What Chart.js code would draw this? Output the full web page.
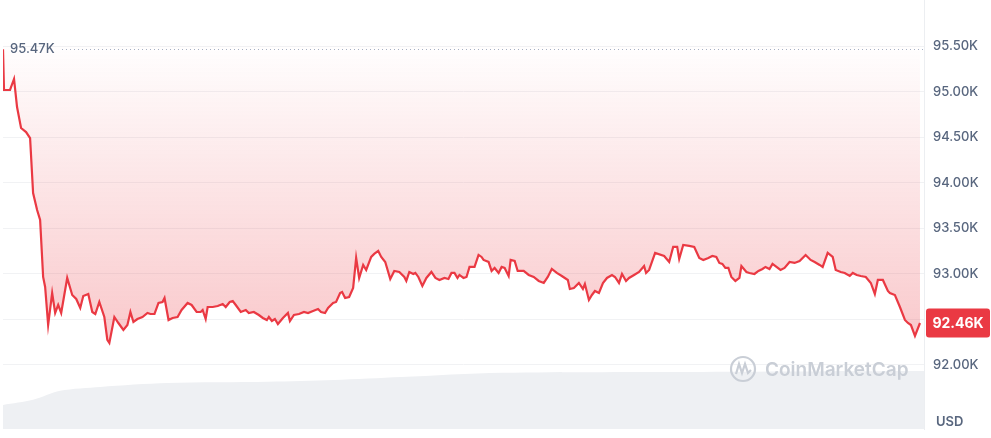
<!DOCTYPE html>
<html>
<head>
<meta charset="utf-8">
<script src="https://cdn.jsdelivr.net/npm/chart.js@4"></script>
<style>
  html, body { margin: 0; padding: 0; background: #fff; }
  #wrap { width: 991px; height: 438px; position: relative; }
</style>
</head>
<body>
<div id="wrap"><canvas id="priceChart"></canvas></div>
<script>
// time index (24h session sampled along the chart width) and BTC price in USD
var times = [0,1,7,11,14,18,23,27,30,34,37,40,42,45,49,52,55,58,64,69,73,77,80,85,89,92,96,101,104,106,111,115,120,124,127,130,134,139,144,147,151,155,159,161,165,169,174,178,184,188,193,197,199,202,204,209,214,219,222,226,229,232,237,242,245,250,255,259,263,265,268,271,274,279,284,286,290,295,300,304,309,314,317,321,324,329,332,336,338,341,345,349,352,355,359,362,367,370,374,377,381,386,390,395,400,402,405,409,411,414,418,422,427,431,435,440,444,447,450,453,455,459,462,465,470,474,477,479,484,487,490,494,497,500,504,506,510,513,519,524,529,534,539,543,547,552,557,563,565,569,574,578,580,584,587,590,594,598,602,607,610,614,617,621,624,629,634,639,641,644,650,659,664,668,672,674,678,684,689,694,698,703,707,711,714,717,720,723,726,730,734,736,741,744,749,753,757,760,764,767,775,779,784,789,794,800,805,809,814,817,822,827,830,835,839,844,847,851,855,860,865,869,872,877,882,884,889,894,899,902,905,909,914,918];
var prices = [95470,95022,95022,95143,94835,94604,94560,94494,93890,93703,93593,92967,92857,92439,92791,92571,92659,92571,92956,92769,92725,92626,92758,92780,92582,92560,92692,92527,92275,92242,92527,92461,92385,92439,92582,92472,92505,92527,92571,92560,92560,92681,92692,92736,92494,92516,92527,92604,92681,92659,92582,92582,92604,92505,92637,92637,92648,92670,92637,92692,92703,92659,92582,92604,92571,92582,92549,92516,92494,92527,92483,92505,92450,92516,92571,92483,92549,92560,92582,92571,92593,92615,92582,92571,92626,92681,92692,92791,92802,92736,92747,92846,93176,92956,93099,93044,93187,93220,93253,93187,93132,92945,93033,93022,92967,92923,93022,93000,93011,92967,92868,92956,93022,92956,92934,92956,92945,93011,93011,92956,92989,92956,92967,93077,93077,93209,93187,93154,93132,93033,93066,93011,93077,93066,92978,93154,93143,93033,93033,92989,92967,92923,92901,92967,93055,93011,92978,92934,92835,92846,92901,92835,92890,92714,92769,92813,92791,92901,92956,92989,92967,92901,93000,92923,92956,92989,93022,93088,93011,93044,93231,93198,93132,93297,93297,93165,93319,93308,93297,93176,93154,93176,93198,93187,93121,93110,93066,93066,92967,92923,92956,93088,93022,93011,93000,93033,93055,93077,93055,93110,93044,93066,93132,93121,93143,93209,93154,93132,93099,93077,93231,93187,93044,93022,93011,92978,93011,92989,92978,92967,92901,92780,92934,92934,92813,92791,92769,92637,92494,92461,92439,92319,92461];

// traded volume profile (relative units) shown as the grey band at the bottom
var volTimes = [0,30,57,97,164,264,330,397,497,697,918];
var volumes = [5.6,6.8,8.9,9.8,10.7,11.0,11.4,12.1,13.1,13.3,13.5];

var tickValues = [92000,92500,93000,93500,94000,94500,95000,95500];
var maxPrice = 95470;
var lastPrice = 92461;

var red = '#ea3943';
var gray = '#58667e';

var pricePoints = times.map(function(t, i){ return {x: t, y: prices[i]}; });
var volPoints = volTimes.map(function(t, i){ return {x: t, y: volumes[i]}; });

function fmtK(v){ return (v / 1000).toFixed(2) + 'K'; }

// extra drawing: max marker, last price tag, watermark, currency
var overlay = {
  id: 'overlay',
  afterDatasetsDraw: function(chart){
    var ctx = chart.ctx, area = chart.chartArea, ys = chart.scales.y;
    ctx.save();
    // dotted max line + label
    var yMax = Math.round(ys.getPixelForValue(maxPrice)) + 0.5;
    ctx.strokeStyle = '#a6b0c3';
    ctx.lineWidth = 1;
    ctx.setLineDash([1, 3]);
    ctx.beginPath();
    ctx.moveTo(62, yMax);
    ctx.lineTo(area.right, yMax);
    ctx.stroke();
    ctx.setLineDash([]);
    ctx.fillStyle = gray;
    ctx.font = '500 13px Inter';
    ctx.textBaseline = 'middle';
    ctx.textAlign = 'left';
    ctx.fillText(fmtK(maxPrice), 10, yMax);

    // watermark
    var cx = 743, cy = 369;
    ctx.strokeStyle = '#c9ced6';
    ctx.lineWidth = 2.2;
    ctx.beginPath();
    ctx.arc(cx, cy, 12, 0, Math.PI * 2);
    ctx.stroke();
    ctx.beginPath();
    ctx.moveTo(cx - 7, cy + 5);
    ctx.lineTo(cx - 4, cy - 5);
    ctx.lineTo(cx - 1, cy + 4);
    ctx.lineTo(cx + 2, cy - 5);
    ctx.lineTo(cx + 5, cy + 4);
    ctx.lineTo(cx + 8, cy + 1);
    ctx.stroke();
    ctx.fillStyle = '#c9ced6';
    ctx.font = '600 19px Inter';
    ctx.fillText('CoinMarketCap', 765, cy + 1);

    // last price tag
    var yL = ys.getPixelForValue(lastPrice);
    var bx = area.right + 2, bw = 64, bh = 29;
    ctx.fillStyle = red;
    ctx.beginPath();
    ctx.roundRect(bx, yL - bh / 2, bw, bh, 3);
    ctx.fill();
    ctx.fillStyle = '#fff';
    ctx.font = '700 14px Inter';
    ctx.textAlign = 'center';
    ctx.fillText(fmtK(lastPrice), bx + bw / 2, yL + 1);

    // currency
    ctx.fillStyle = gray;
    ctx.font = '600 13px Inter';
    ctx.textAlign = 'left';
    ctx.fillText('USD', 936, 422);
    ctx.restore();
  }
};

var ctx = document.getElementById('priceChart').getContext('2d');
var chart = new Chart(ctx, {
  type: 'line',
  data: {
    datasets: [{
      label: 'Price',
      data: pricePoints,
      yAxisID: 'y',
      borderColor: red,
      borderWidth: 2.2,
      pointRadius: 0,
      tension: 0,
      fill: 'end',
      backgroundColor: function(c){
        var a = c.chart.chartArea;
        if (!a) return 'rgba(234,57,67,0.1)';
        var g = c.chart.ctx.createLinearGradient(0, a.top + 40, 0, a.top + 345);
        g.addColorStop(0, 'rgba(234,57,67,0.0)');
        g.addColorStop(1, 'rgba(234,57,67,0.28)');
        return g;
      },
      order: 1
    }, {
      label: 'Volume',
      data: volPoints,
      yAxisID: 'yv',
      borderWidth: 0,
      pointRadius: 0,
      tension: 0.3,
      fill: 'start',
      backgroundColor: '#eef0f3',
      order: 2
    }]
  },
  options: {
    responsive: true,
    maintainAspectRatio: false,
    animation: false,
    layout: { padding: { left: 3, top: 0, bottom: 9, right: 0 } },
    plugins: { legend: { display: false }, tooltip: { enabled: false } },
    scales: {
      x: {
        type: 'linear',
        min: 0,
        max: 918,
        display: false
      },
      y: {
        position: 'right',
        min: 91296,
        max: 96011,
        afterBuildTicks: function(s){
          s.ticks = tickValues.map(function(v){ return {value: v}; });
        },
        afterFit: function(s){
          s.width = 67;
          s.paddingTop = 0;
          s.paddingBottom = 0;
        },
        grid: { color: '#f1f2f4', drawTicks: false },
        border: { display: true, color: '#eceef1' },
        ticks: {
          padding: 9,
          color: gray,
          font: { family: 'Inter', size: 13, weight: '500' },
          callback: function(v){ return v === 92500 ? '' : fmtK(v); }
        }
      },
      yv: {
        display: false,
        min: 0,
        max: 100
      }
    }
  },
  plugins: [overlay]
});
</script>
</body>
</html>
